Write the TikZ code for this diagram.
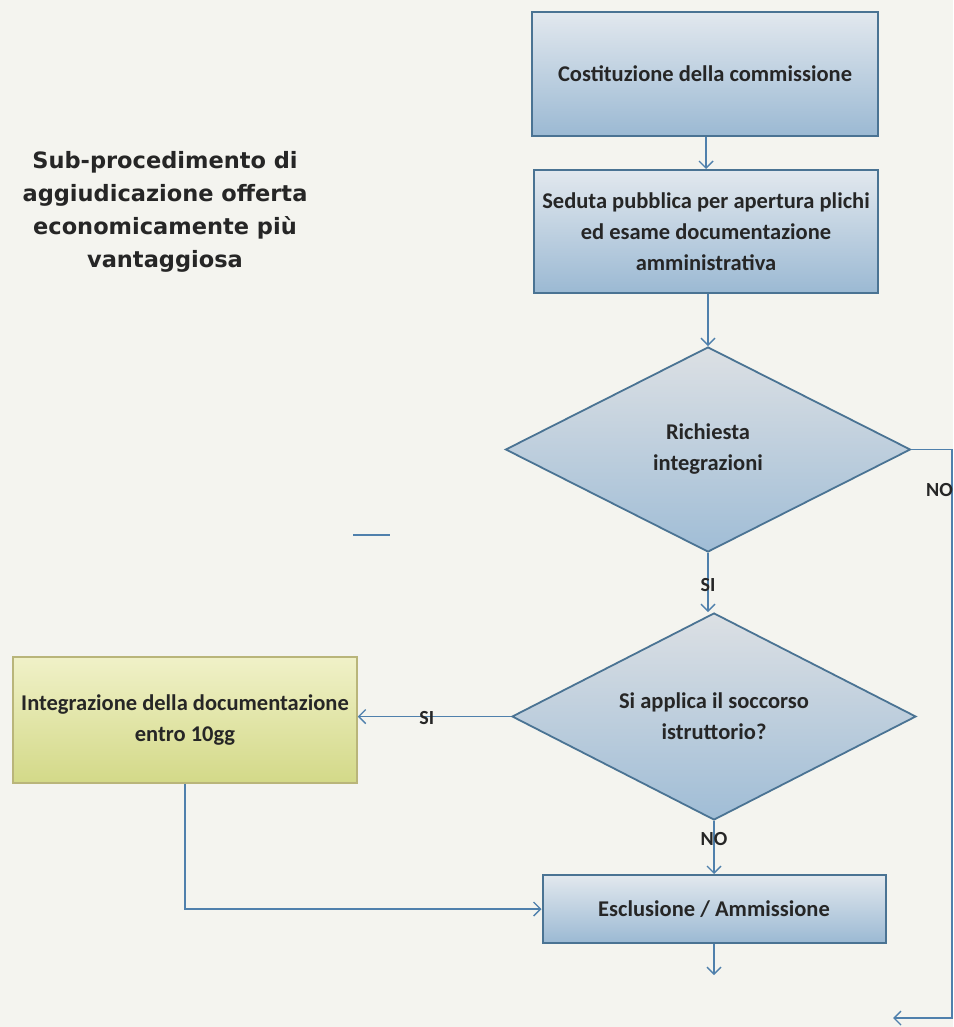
\documentclass[tikz,border=0pt]{standalone}
\usepackage{fontspec}
\setmainfont{Carlito}
\newfontfamily\titlefont{DejaVu Sans}
\usetikzlibrary{shapes.geometric,arrows.meta}
\definecolor{bg}{HTML}{F4F4EF}
\definecolor{boxtop}{HTML}{E2E8EE}
\definecolor{boxbot}{HTML}{9BB9D3}
\definecolor{diatop}{HTML}{DCE0E4}
\definecolor{diabot}{HTML}{A0BDD6}
\definecolor{boxedge}{HTML}{4A7393}
\definecolor{yeltop}{HTML}{F0F1C8}
\definecolor{yelbot}{HTML}{D3D988}
\definecolor{yeledge}{HTML}{B9B57A}
\definecolor{linkcol}{HTML}{4F80AC}
\definecolor{txt}{HTML}{262626}
\tikzset{
  procbox/.style={draw=boxedge, line width=2pt, top color=boxtop, bottom color=boxbot,
    minimum width=#1, align=center, text=txt, inner sep=0pt,
    font=\fontsize{22.5}{31}\selectfont\bfseries},
  decision/.style={diamond, shape aspect=1.95, draw=boxedge, line width=1.8pt, top color=diatop, bottom color=diabot,
    align=center, text=txt, inner sep=0pt,
    font=\fontsize{22.5}{31}\selectfont\bfseries},
  yelbox/.style={draw=yeledge, line width=1.5pt, top color=yeltop, bottom color=yelbot,
    align=center, text=txt, inner sep=0pt,
    font=\fontsize{22.5}{31}\selectfont\bfseries},
  link/.style={draw=linkcol, line width=1.4pt, -{Straight Barb[length=7pt,width=14pt,line width=1.4pt]}},
  lbl/.style={text=txt, font=\fontsize{20}{22}\selectfont\bfseries, inner sep=0pt},
}
\begin{document}
\begin{tikzpicture}[x=1pt,y=-1pt]
\fill[bg] (0,0) rectangle (953,1027);
\useasboundingbox (0,0) rectangle (953,1027);

% title
\node[text=txt, align=center, font=\titlefont\fontsize{22.5}{33}\selectfont\bfseries] (title) at (165,212)
  {Sub-procedimento di\\aggiudicazione offerta\\economicamente più\\vantaggiosa};

% nodes
\node[procbox=346pt, minimum height=124pt] (b1) at (705,74) {Costituzione della commissione};
\node[procbox=344pt, minimum height=123pt] (b2) at (706,231.5) {Seduta pubblica per apertura plichi\\ed esame documentazione\\amministrativa};
\node[decision, minimum width=405pt, minimum height=205pt] (d1) at (708,449.5) {Richiesta\\integrazioni};
\node[decision, minimum width=404pt, minimum height=207pt] (d2) at (714,716.5) {Si applica il soccorso\\istruttorio?};
\node[yelbox, minimum width=344pt, minimum height=126pt] (y1) at (185,720) {Integrazione della documentazione\\entro 10gg};
\node[procbox=343pt, minimum height=68pt] (b3) at (714,909) {Esclusione / Ammissione};

% free ends
\coordinate (c1) at (952,449.5);
\coordinate (c2) at (952,1018);
\coordinate (c3) at (893,1018);
\coordinate (c4) at (b3.south |- 0,975);
\coordinate (c5) at (y1.south |- b3.west);

% connectors
\draw[link] (b1.south -| b2.north) -- (b2.north);
\draw[link] (b2.south -| d1.north) -- (d1.north);
\draw[link] (d1.south) -- node[lbl, pos=0.55] (si1) {SI} (d1.south |- d2.north);
\draw[link] (d1.east) -- (c1) -- (c2) -- (c3);
\node[lbl, anchor=west] (no1) at (926,490) {NO};
\draw[link] (d2.west) -- node[lbl, pos=0.55, yshift=-2pt] (si2) {SI} (d2.west -| y1.east);
\draw[link] (d2.south) -- node[lbl, pos=0.35] (no2) {NO} (b3.north);
\draw[link] (y1.south) -- (c5) -- (b3.west);
\draw[link] (b3.south) -- (c4);

% stray dash
\coordinate (s1) at (353,535);
\coordinate (s2) at (390,535);
\draw[linkcol, line width=2pt] (s1) -- (s2);
\end{tikzpicture}
\end{document}
